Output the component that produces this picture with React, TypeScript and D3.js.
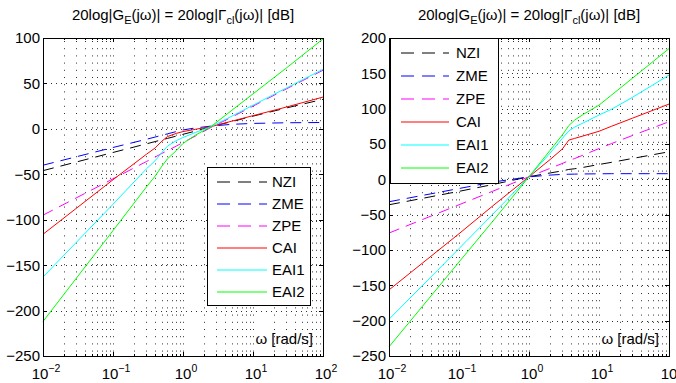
import * as d3 from "d3";
import React, { useEffect, useRef } from "react";

const seriesNames = ["NZI", "ZME", "ZPE", "CAI", "EAI1", "EAI2"];
const seriesColors = ["#000000", "#0000ff", "#ff00ff", "#ff0000", "#00ffff", "#00ff00"];
const seriesDashed = [true, true, true, false, false, false];

const xTickExponents = [-2, -1, 0, 1, 2];

// left panel (values in dB)
const omegaL = [0.01, 0.1, 0.3, 0.4, 0.5, 0.6, 0.8, 1, 1.5, 2.5, 5, 10, 30, 100];
const nziL = [-46, -26, -16.5, -14, -12, -10.5, -8, -6, -2.5, 2.4, 8, 14, 23, 32.5];
const zmeL = [-40, -20.5, -11.5, -9, -7, -5.5, -3, -1.2, 1, 3, 5, 6, 6.7, 7];
const zpeL = [-95, -55, -36, -31, -27, -24, -19, -15, -8, 1.5, 13, 25, 44, 64.5];
const caiL = [-116, -56, -28, -21, -13.5, -8.5, -5, -3, -0.5, 2.4, 8.5, 14.5, 24, 35];
const eai1L = [-163, -83, -44, -35, -26, -19, -13, -9.5, -4, 2.4, 14, 26, 45, 65.5];
const eai2L = [-212, -112, -64, -52, -41, -33, -24, -16, -7, 2.4, 20.5, 38.5, 67, 99];
const yTicksL = [-250, -200, -150, -100, -50, 0, 50, 100];

// right panel
const omegaR = [0.01, 0.1, 0.3, 1, 2, 3, 3.7, 4.5, 6, 10, 15, 30, 100];
const nziR = [-36, -17, -7.5, 3.7, 9, 12, 14, 15, 17, 21, 24, 29.5, 39];
const zmeR = [-31.7, -13, -4, 3.5, 6, 7, 7.2, 7.4, 7.6, 7.8, 8, 8, 8];
const zpeR = [-76, -36, -17, 3.7, 15.5, 22.5, 26.5, 29.5, 34.5, 43.5, 50.5, 62, 81.5];
const caiR = [-156.5, -77, -38, 3.7, 28, 43, 55.5, 58, 61.5, 68, 75, 86.5, 106.5];
const eai1R = [-198, -98, -50, 3.7, 37, 58, 68.5, 74, 80, 91, 99, 116, 147.5];
const eai2R = [-237, -117, -60, 3.7, 41, 63, 76, 84, 92, 105, 119, 143, 185];
const yTicksR = [-250, -200, -150, -100, -50, 0, 50, 100, 150, 200];

const FONT = "'Liberation Sans', Arial, Helvetica, sans-serif";

const drawPanel = (svg, cfg) => {
  const x = d3.scaleLog().domain([0.01, 100]).range([cfg.left, cfg.right]);
  const y = d3.scaleLinear().domain(cfg.yDomain).range([cfg.bottom, cfg.top]);
  const g = svg.append("g");

  // dotted grid
  const minor = [];
  for (let e = -2; e < 2; e++) for (let k = 1; k < 10; k++) minor.push(k * Math.pow(10, e));
  g.selectAll(".vgrid")
    .data(minor.filter((v) => v > 0.0101))
    .enter()
    .append("line")
    .attr("x1", (d) => Math.round(x(d)) + 0.5)
    .attr("x2", (d) => Math.round(x(d)) + 0.5)
    .attr("y1", cfg.top + 3)
    .attr("y2", cfg.bottom)
    .attr("stroke", "#333")
    .attr("stroke-width", 1)
    .attr("stroke-dasharray", "1,6.2");
  g.selectAll(".hgrid")
    .data(cfg.yTicks.filter((v) => v > cfg.yDomain[0] && v < cfg.yDomain[1]))
    .enter()
    .append("line")
    .attr("x1", cfg.left + 3)
    .attr("x2", cfg.right)
    .attr("y1", (d) => Math.round(y(d)) + 0.5)
    .attr("y2", (d) => Math.round(y(d)) + 0.5)
    .attr("stroke", "#333")
    .attr("stroke-width", 1)
    .attr("stroke-dasharray", "1,4");

  // curves
  const line = d3
    .line()
    .x((d) => x(d[0]))
    .y((d) => y(d[1]));
  cfg.values.forEach((vals, i) => {
    g.append("path")
      .datum(cfg.omega.map((w, j) => [w, vals[j]]))
      .attr("d", line)
      .attr("fill", "none")
      .attr("stroke", seriesColors[i])
      .attr("stroke-width", 1)
      .attr("stroke-dasharray", seriesDashed[i] ? "11,7" : null);
  });

  // ticks
  const majors = xTickExponents.map((e) => Math.pow(10, e));
  minor.forEach((v) => {
    const isMajor = majors.some((m) => Math.abs(m - v) < 1e-9);
    const len = isMajor ? 4 : 2;
    const xx = Math.round(x(v)) + 0.5;
    g.append("line").attr("x1", xx).attr("x2", xx).attr("y1", cfg.bottom).attr("y2", cfg.bottom - len).attr("stroke", "#000");
    g.append("line").attr("x1", xx).attr("x2", xx).attr("y1", cfg.top).attr("y2", cfg.top + len).attr("stroke", "#000");
  });
  cfg.yTicks.forEach((v) => {
    const yy = Math.round(y(v)) + 0.5;
    g.append("line").attr("x1", cfg.left).attr("x2", cfg.left + 4).attr("y1", yy).attr("y2", yy).attr("stroke", "#000");
    g.append("line").attr("x1", cfg.right).attr("x2", cfg.right - 4).attr("y1", yy).attr("y2", yy).attr("stroke", "#000");
  });

  // box
  g.append("rect")
    .attr("x", cfg.left + 0.5)
    .attr("y", cfg.top + 0.5)
    .attr("width", cfg.right - cfg.left)
    .attr("height", cfg.bottom - cfg.top)
    .attr("fill", "none")
    .attr("stroke", "#000")
    .attr("stroke-width", 1);

  // y tick labels
  g.selectAll(".ylab")
    .data(cfg.yTicks)
    .enter()
    .append("text")
    .attr("x", cfg.left - 3)
    .attr("y", (d) => y(d))
    .attr("dy", "0.36em")
    .attr("text-anchor", "end")
    .style("font-size", "15px")
    .text((d) => (d < 0 ? "\u2212" + Math.abs(d) : String(d)));

  // x tick labels 10^e
  xTickExponents.forEach((e) => {
    const t = g.append("text")
      .attr("x", x(Math.pow(10, e)) + 3)
      .attr("y", cfg.bottom + 23)
      .attr("text-anchor", "middle")
      .style("font-size", "15px");
    t.append("tspan").text("10");
    t.append("tspan").attr("dy", -7).style("font-size", "10.5px").text(e < 0 ? "\u2212" + Math.abs(e) : String(e));
  });

  // title
  const title = g.append("text")
    .attr("x", (cfg.left + cfg.right) / 2)
    .attr("y", 20)
    .attr("text-anchor", "middle")
    .style("font-size", "15px");
  title.append("tspan").text("20log|G");
  title.append("tspan").attr("dy", 4).style("font-size", "11px").text("E");
  title.append("tspan").attr("dy", -4).text("(jω)| = 20log|Γ");
  title.append("tspan").attr("dy", 4).style("font-size", "11px").text("cl");
  title.append("tspan").attr("dy", -4).text("(jω)| [dB]");

  // x label
  g.append("text")
    .attr("x", cfg.right - 10)
    .attr("y", cfg.bottom - 12)
    .attr("text-anchor", "end")
    .style("font-size", "15px")
    .text("ω [rad/s]");

  // legend
  const L = cfg.legend;
  g.append("rect")
    .attr("x", L.x + 0.5)
    .attr("y", L.y + 0.5)
    .attr("width", L.w)
    .attr("height", L.h)
    .attr("fill", "#fff")
    .attr("stroke", "#000");
  seriesNames.forEach((name, i) => {
    const yy = L.first + i * L.step;
    g.append("line")
      .attr("x1", L.lineX0)
      .attr("x2", L.lineX1)
      .attr("y1", yy)
      .attr("y2", yy)
      .attr("stroke", seriesColors[i])
      .attr("stroke-dasharray", seriesDashed[i] ? "13,8" : null);
    g.append("text")
      .attr("x", L.textX)
      .attr("y", yy)
      .attr("dy", "0.36em")
      .style("font-size", "15px")
      .text(name);
  });
};

const App = () => {
  const ref = useRef(null);

  useEffect(() => {
    document.body.style.margin = "0";
    const svg = d3.select(ref.current);
    svg.selectAll("*").remove();
    svg.style("font-family", FONT);

    drawPanel(svg, {
      left: 43, right: 323, top: 38, bottom: 356,
      yDomain: [-250, 100], yTicks: yTicksL,
      omega: omegaL,
      values: [nziL, zmeL, zpeL, caiL, eai1L, eai2L],
      legend: { x: 207, y: 167, w: 103, h: 138, first: 182, step: 22, lineX0: 217, lineX1: 267, textX: 272 },
    });
    drawPanel(svg, {
      left: 389, right: 669, top: 38, bottom: 356,
      yDomain: [-250, 200], yTicks: yTicksR,
      omega: omegaR,
      values: [nziR, zmeR, zpeR, caiR, eai1R, eai2R],
      legend: { x: 390, y: 38, w: 108, h: 145, first: 53, step: 23, lineX0: 401, lineX1: 449, textX: 456 },
    });
  }, []);

  return <svg ref={ref} width={676} height={383} style={{ display: "block", background: "#fff" }}></svg>;
};

export default App;
